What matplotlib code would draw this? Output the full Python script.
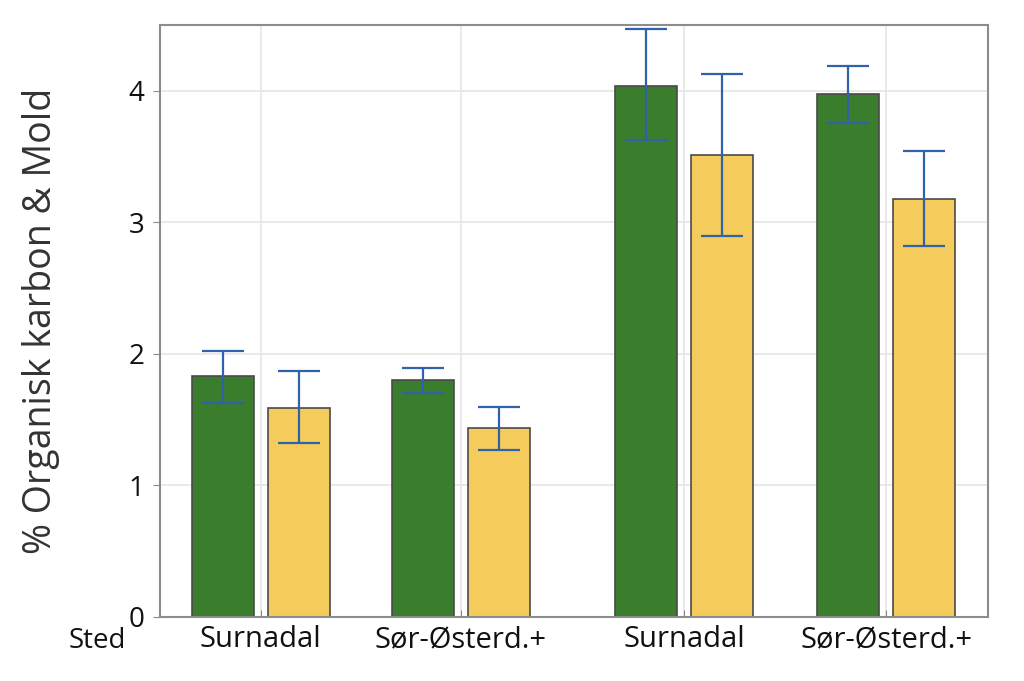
import numpy as np
import matplotlib
matplotlib.use('Agg')
from matplotlib import pyplot as plt

plt.rcParams['font.family'] = ['Open Sans', 'DejaVu Sans']

sites = ['Surnadal', 'Sør-Østerd.+', 'Surnadal', 'Sør-Østerd.+']
group_pos = np.array([0.0, 1.0, 2.115, 3.125])

green_vals = [1.83, 1.80, 4.04, 3.98]
green_lo = [1.63, 1.70, 3.63, 3.76]
green_hi = [2.02, 1.89, 4.47, 4.19]

yellow_vals = [1.59, 1.44, 3.51, 3.18]
yellow_lo = [1.32, 1.27, 2.90, 2.82]
yellow_hi = [1.87, 1.60, 4.13, 3.54]

fig = plt.figure(figsize=(10.24, 6.81), dpi=100)
ax = fig.add_axes([0.156, 0.094, 0.809, 0.869])

w = 0.31
off = 0.19
ebar_col = '#2f62a8'
for vals, lo, hi, col, sgn in [(green_vals, green_lo, green_hi, '#3a7d2c', -1),
                              (yellow_vals, yellow_lo, yellow_hi, '#f5cb5c', 1)]:
    xs = group_pos + sgn * off
    v = np.array(vals)
    ax.bar(xs, v, width=w, color=col, edgecolor='#4a4a4a', linewidth=1.2, zorder=2)
    ax.errorbar(xs, v, yerr=[v - np.array(lo), np.array(hi) - v], fmt='none',
                ecolor=ebar_col, elinewidth=1.6, capsize=15, capthick=1.6, zorder=3)

ax.set_xlim(-0.505, 3.635)
ax.set_ylim(0, 4.5)
ax.set_yticks([0, 1, 2, 3, 4])
ax.set_xticks(group_pos)
ax.set_xticklabels(sites, fontsize=21, color='#111111')
ax.tick_params(axis='y', labelsize=20, length=5, color='#8c8c8c', pad=6, labelcolor='#111111')
ax.tick_params(axis='x', length=5, color='#8c8c8c', direction='in', pad=6)
ax.grid(True, color='#e6e6e6', linewidth=1.2, zorder=0)
ax.set_axisbelow(True)
for s in ax.spines.values():
    s.set_color('#8c8c8c')
    s.set_linewidth(1.5)

ax.set_ylabel('% Organisk karbon & Mold', fontsize=27, color='#333333', va='center')
ax.yaxis.set_label_coords(-0.143, 0.5)
fig.text(0.095, 0.059, 'Sted', fontsize=20, ha='center', va='center', color='#111111')

fig.savefig('out.png', dpi=100)
